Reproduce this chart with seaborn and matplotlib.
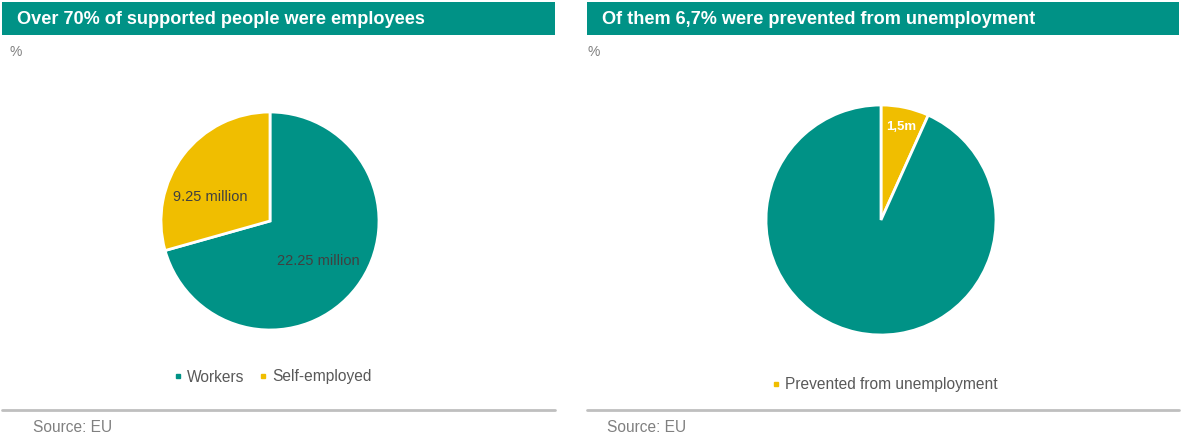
import matplotlib
matplotlib.use("Agg")
import matplotlib.pyplot as plt
import seaborn as sns
import numpy as np
from matplotlib.patches import Rectangle
from matplotlib.lines import Line2D

# datos
left_labels = ["Workers", "Self-employed"]
left_values = [22.25, 9.25]          # millones
right_labels = ["Prevented from unemployment", "Rest"]
right_values = [1.5, 20.75]          # millones
right_slice_text = ["1,5m", ""]

titles = ["Over 70% of supported people were employees",
          "Of them 6,7% were prevented from unemployment"]

TEAL = "#009286"
YELLOW = "#F0BE00"
GREY_TXT = "#595959"

sns.set_theme(style="white")
plt.rcParams["font.family"] = ["Liberation Sans", "DejaVu Sans"]

W, H = 1186, 446
fig = plt.figure(figsize=(W / 100, H / 100), dpi=100)


def px(x, y, w, h):
    # caja en pixeles (origen arriba-izquierda) -> coordenadas de figura
    return [x / W, 1 - (y + h) / H, w / W, h / H]


def panel(x0, x1, title, pct_x, src_x):
    b = px(x0, 2, x1 - x0, 33)
    fig.patches.append(Rectangle((b[0], b[1]), b[2], b[3], transform=fig.transFigure,
                                 facecolor=TEAL, edgecolor="none"))
    fig.text((x0 + 15) / W, 1 - 19.5 / H, title, color="white", fontsize=13.1,
             fontweight="bold", va="center", ha="left")
    fig.text(pct_x / W, 1 - 52 / H, "%", color="#808080", fontsize=10, va="center")
    fig.lines.append(Line2D([x0 / W, x1 / W], [1 - 410 / H] * 2, transform=fig.transFigure,
                            color="#BFBFBF", lw=2))
    fig.text(src_x / W, 1 - 428 / H, "Source: EU", color="#808080", fontsize=11.2,
             va="center")


panel(2, 555, titles[0], 9, 33)
panel(587, 1179, titles[1], 588, 607)

# pie izquierdo
cx, cy, r = 270, 221, 109
ax1 = fig.add_axes(px(cx - r, cy - r, 2 * r, 2 * r))
total = sum(left_values)
wedges1, _, autotexts = ax1.pie(left_values, colors=[TEAL, YELLOW], startangle=90,
                                counterclock=False, radius=1,
                                autopct=lambda p: f"{p * total / 100:.2f} million",
                                pctdistance=0.62,
                                wedgeprops=dict(edgecolor="white", linewidth=2))
# etiquetas un poco desplazadas como en el original
for t, pos in zip(autotexts, [(0.44, -0.37), (-0.55, 0.22)]):
    t.set_position(pos)
    t.set_color("#404040")
    t.set_fontsize(10.5)
ax1.set_xlim(-1, 1)
ax1.set_ylim(-1, 1)
ax1.set_aspect("equal")
ax1.axis("off")

h1 = [Line2D([], [], marker="s", color=c, ls="", markersize=3.2) for c in [TEAL, YELLOW]]
fig.legend(h1, left_labels, loc="center", bbox_to_anchor=(273 / W, 1 - 377 / H), ncol=2,
           frameon=False, handlelength=0.4, handletextpad=0.4, columnspacing=1.0,
           fontsize=11.2, labelcolor=GREY_TXT)

# pie derecho
cx, cy, r = 881, 220, 115
ax2 = fig.add_axes(px(cx - r, cy - r, 2 * r, 2 * r))
wedges2, _ = ax2.pie(right_values, colors=[YELLOW, TEAL], startangle=90,
                     counterclock=False, radius=1,
                     wedgeprops=dict(edgecolor="white", linewidth=2))
for w, txt in zip(wedges2, right_slice_text):
    if txt:
        ang = np.deg2rad((w.theta1 + w.theta2) / 2)
        ax2.text(0.83 * np.cos(ang), 0.83 * np.sin(ang), txt, color="white",
                 fontweight="bold", fontsize=9.5, ha="center", va="center")
ax2.set_xlim(-1, 1)
ax2.set_ylim(-1, 1)
ax2.set_aspect("equal")
ax2.axis("off")

h2 = [Line2D([], [], marker="s", color=YELLOW, ls="", markersize=3.2)]
fig.legend(h2, right_labels[:1], loc="center", bbox_to_anchor=(885 / W, 1 - 385 / H),
           frameon=False, handlelength=0.4, handletextpad=0.4, fontsize=11.2,
           labelcolor=GREY_TXT)

fig.savefig("out.png", dpi=100)
